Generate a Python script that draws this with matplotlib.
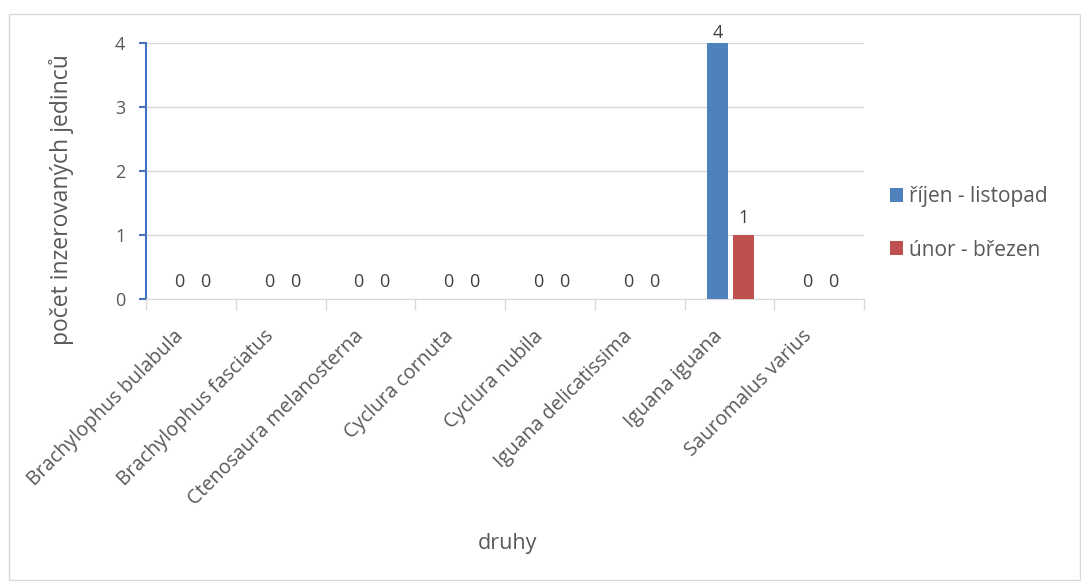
import matplotlib
matplotlib.use("Agg")
import matplotlib.pyplot as plt
import matplotlib.transforms as mtransforms
import numpy as np
from matplotlib.patches import Rectangle

plt.rcParams['font.family'] = ['Open Sans', 'DejaVu Sans']

species = ["Brachylophus bulabula", "Brachylophus fasciatus", "Ctenosaura melanosterna",
           "Cyclura cornuta", "Cyclura nubila", "Iguana delicatissima",
           "Iguana iguana", "Sauromalus varius"]
series_names = ["říjen - listopad", "únor - březen"]
rijen_listopad = [0, 0, 0, 0, 0, 0, 4, 0]
unor_brezen = [0, 0, 0, 0, 0, 0, 1, 0]
y_ticks = [0, 1, 2, 3, 4]

colors = ["#4F81BD", "#C0504D"]
text_color = "#595959"
grid_color = "#D9D9D9"

W, H = 1081, 581
fig = plt.figure(figsize=(W / 100, H / 100), dpi=100)
fig.patch.set_facecolor("white")
fig.add_artist(Rectangle((9 / W, 1 / H), (W - 10) / W, (H - 15) / H,
                         transform=fig.transFigure, fill=False,
                         edgecolor="#D9D9D9", linewidth=1))

left, right, top, bottom = 146, 864, 43, 299
ax = fig.add_axes([left / W, 1 - bottom / H, (right - left) / W, (bottom - top) / H])

x = np.arange(len(species))
bw = 0.235
offsets = [-0.13, 0.16]
series = [rijen_listopad, unor_brezen]
ymax = max(y_ticks)
for vals, name, c, off in zip(series, series_names, colors, offsets):
    pos = x + off
    ax.bar(pos, vals, width=bw, color=c, label=name, zorder=3)
    for px, v in zip(pos, vals):
        ly = v + 0.13 if v < ymax else v + 0.01
        ax.text(px, ly, f"{v}", ha="center", va="bottom",
                fontsize=13, color="#404040", zorder=4, clip_on=False)

ax.set_xlim(-0.5, len(species) - 0.5)
ax.set_ylim(0, ymax)
ax.set_yticks(y_ticks)
ax.set_yticklabels([str(t) for t in y_ticks], fontsize=13, color=text_color)
ax.yaxis.grid(True, color=grid_color, linewidth=1, zorder=0)
ax.set_axisbelow(True)

for s in ["top", "right"]:
    ax.spines[s].set_visible(False)
ax.spines["left"].set_color("#4472C4")
ax.spines["left"].set_linewidth(1.5)
ax.spines["bottom"].set_color(grid_color)
ax.tick_params(axis="y", colors="#4472C4", length=5, width=1.5, pad=10,
               labelcolor=text_color)

# category separators as minor ticks below the axis
ax.set_xticks(x)
ax.set_xticklabels(species, rotation=45, ha="right", rotation_mode="anchor",
                   fontsize=14.2, color=text_color)
ax.tick_params(axis="x", which="major", length=0, pad=16)
shift = mtransforms.ScaledTranslation(-17 / 100, -5 / 100, fig.dpi_scale_trans)
for lbl in ax.get_xticklabels():
    lbl.set_transform(lbl.get_transform() + shift)
ax.set_xticks(np.arange(-0.5, len(species)), minor=True)
ax.tick_params(axis="x", which="minor", length=8, color=grid_color, width=1)

fig.text(62 / W, 1 - 200 / H, "počet inzerovaných jedinců", rotation=90,
         ha="center", va="center", fontsize=16.5, color=text_color)
fig.text(507 / W, 1 - 543 / H, "druhy", ha="center", va="center",
         fontsize=15.5, color=text_color)

leg = ax.legend(loc="center left", bbox_to_anchor=(1.01, 0.295), frameon=False,
                fontsize=15, handlelength=0.65, handleheight=0.65, handletextpad=0.25,
                labelspacing=1.55, labelcolor=text_color)

fig.savefig("out.png", dpi=100, facecolor="white")
